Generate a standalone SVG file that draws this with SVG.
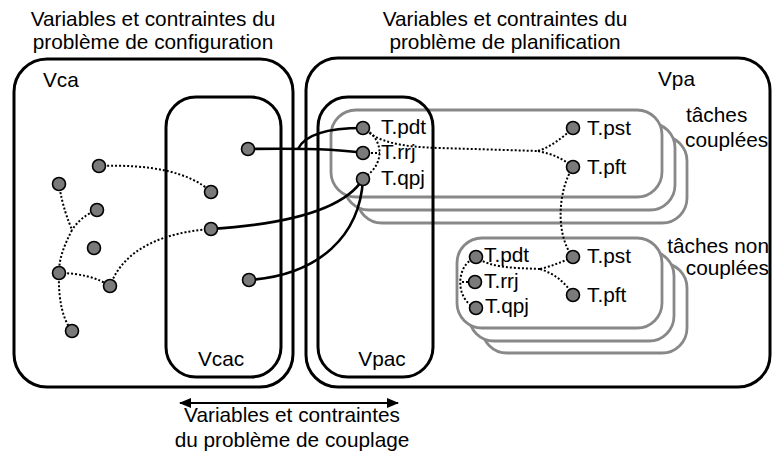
<svg xmlns="http://www.w3.org/2000/svg" width="772" height="461" viewBox="0 0 772 461">
  <style>
    text { font-family: "Liberation Sans", Arial, sans-serif; font-size: 20.8px; fill: #000; }
    .mid { text-anchor: middle; }
    .end { text-anchor: end; }
    .box { fill: none; stroke: #000; stroke-width: 3; }
    .task { fill: #fff; stroke: #888; stroke-width: 2.8; }
    .var { fill: #7a7a7a; stroke: #000; stroke-width: 1.6; }
    .solid { fill: none; stroke: #000; stroke-width: 2.6; }
    .dot { fill: none; stroke: #000; stroke-width: 2; stroke-dasharray: 2 2; }
  </style>
  <defs>
    <marker id="arrow" viewBox="0 0 12 10" refX="11" refY="5" markerWidth="12" markerHeight="10" markerUnits="userSpaceOnUse" orient="auto-start-reverse">
      <path d="M0,0 L12,5 L0,10 Z" fill="#000"/>
    </marker>
  </defs>

  <!-- configuration problem -->
  <g id="titre-configuration">
    <text class="mid" x="153" y="26">Variables et contraintes du</text>
    <text class="mid" x="153" y="49">problème de configuration</text>
  </g>
  <g id="Vca">
    <rect class="box" x="14" y="59" width="279" height="328" rx="33"/>
    <text x="43" y="87">Vca</text>
  </g>
  <g id="Vcac">
    <rect class="box" x="166" y="97" width="115" height="280" rx="30"/>
    <text class="mid" x="221" y="366">Vcac</text>
  </g>

  <!-- planning problem -->
  <g id="titre-planification">
    <text class="mid" x="505" y="26">Variables et contraintes du</text>
    <text class="mid" x="505" y="49">problème de planification</text>
  </g>
  <g id="Vpa">
    <rect class="box" x="306" y="58" width="464" height="329" rx="32"/>
    <text x="658" y="86">Vpa</text>
  </g>

  <!-- stacked coupled tasks -->
  <g id="taches-couplees">
    <rect class="task" x="357" y="136" width="330" height="87" rx="25"/>
    <rect class="task" x="344" y="123" width="331" height="87" rx="25"/>
    <rect class="task" x="331" y="110" width="331" height="87" rx="25"/>
    <text x="686" y="122">tâches</text>
    <text x="685" y="147">couplées</text>
  </g>

  <!-- stacked uncoupled tasks -->
  <g id="taches-non-couplees">
    <rect class="task" x="482" y="263" width="205" height="90" rx="25"/>
    <rect class="task" x="469" y="251" width="205" height="90" rx="25"/>
    <rect class="task" x="457" y="238" width="205" height="90" rx="25"/>
    <text class="end" x="769" y="253">tâches non</text>
    <text class="end" x="769" y="275">couplées</text>
  </g>

  <g id="Vpac">
    <rect class="box" x="318" y="97" width="115" height="280" rx="30"/>
    <text class="mid" x="382" y="366">Vpac</text>
  </g>

  <!-- connectors -->
  <g id="connecteurs">
    <!-- constraints inside Vca -->
    <path class="dot" d="M99,166 C150,164 190,172 211,192"/>
    <path class="dot" d="M59,184 C62,205 68,220 72,230 C64,246 59,258 59,273"/>
    <path class="dot" d="M97,210 C86,214 77,222 72,230"/>
    <path class="dot" d="M59,273 C80,273 98,278 110,286"/>
    <path class="dot" d="M110,286 C125,245 170,232 211,229"/>
    <path class="dot" d="M59,273 C58,300 63,320 72,331"/>

    <!-- coupling constraints -->
    <path class="solid" d="M248,149 C310,148 340,149 363,153"/>
    <path class="solid" d="M298,149 C305,134 330,128 363,128"/>
    <path class="solid" d="M211,229 C290,224 345,208 363,179"/>
    <path class="solid" d="M249,280 C320,275 360,235 363,179"/>

    <!-- coupled task constraints -->
    <path class="dot" d="M363,128 C384,138 386,165 363,178"/>
    <path class="dot" d="M363,153 L380,153"/>
    <path class="dot" d="M363,128 C378,142 400,147 440,148 L538,151"/>
    <path class="dot" d="M538,151 C552,146 562,138 573,128"/>
    <path class="dot" d="M538,151 C552,154 562,158 573,167"/>
    <path class="dot" d="M573,167 C558,190 555,235 573,257"/>

    <!-- uncoupled task constraints -->
    <path class="dot" d="M476,257 C455,265 455,300 476,308"/>
    <path class="dot" d="M462,282 L475,282"/>
    <path class="dot" d="M476,257 C490,268 515,268 540,269"/>
    <path class="dot" d="M540,269 C552,266 562,262 573,257"/>
    <path class="dot" d="M540,269 C555,274 565,282 573,295"/>
  </g>

  <!-- variables of the configuration problem -->
  <g id="variables-configuration">
    <circle class="var" cx="99" cy="166" r="6.5"/>
    <circle class="var" cx="59" cy="184" r="6.5"/>
    <circle class="var" cx="97" cy="210" r="6.5"/>
    <circle class="var" cx="94" cy="248" r="6.5"/>
    <circle class="var" cx="59" cy="273" r="6.5"/>
    <circle class="var" cx="110" cy="286" r="6.5"/>
    <circle class="var" cx="72" cy="331" r="6.5"/>
    <circle class="var" cx="248" cy="149" r="6.5"/>
    <circle class="var" cx="211" cy="192" r="6.5"/>
    <circle class="var" cx="211" cy="229" r="6.5"/>
    <circle class="var" cx="249" cy="280" r="6.5"/>
  </g>

  <!-- coupled task variables -->
  <g id="variables-couplees">
    <circle class="var" cx="363" cy="128" r="6.5"/>
    <text x="381" y="134">T.pdt</text>
    <circle class="var" cx="363" cy="153" r="6.5"/>
    <text x="381" y="159">T.rrj</text>
    <circle class="var" cx="363" cy="179" r="6.5"/>
    <text x="381" y="185">T.qpj</text>
    <circle class="var" cx="573" cy="128" r="6.5"/>
    <text x="587" y="135">T.pst</text>
    <circle class="var" cx="573" cy="167" r="6.5"/>
    <text x="587" y="174">T.pft</text>
  </g>

  <!-- uncoupled task variables -->
  <g id="variables-non-couplees">
    <circle class="var" cx="476" cy="257" r="6.5"/>
    <text x="484" y="262">T.pdt</text>
    <circle class="var" cx="475" cy="282" r="6.5"/>
    <text x="484" y="288">T.rrj</text>
    <circle class="var" cx="476" cy="308" r="6.5"/>
    <text x="485" y="313">T.qpj</text>
    <circle class="var" cx="573" cy="257" r="6.5"/>
    <text x="587" y="263">T.pst</text>
    <circle class="var" cx="573" cy="295" r="6.5"/>
    <text x="587" y="302">T.pft</text>
  </g>

  <!-- coupling problem span -->
  <g id="couplage">
    <line x1="180" y1="403" x2="398" y2="403" stroke="#000" stroke-width="2" marker-start="url(#arrow)" marker-end="url(#arrow)"/>
    <text class="mid" x="292" y="422">Variables et contraintes</text>
    <text class="mid" x="292" y="447">du problème de couplage</text>
  </g>
</svg>
